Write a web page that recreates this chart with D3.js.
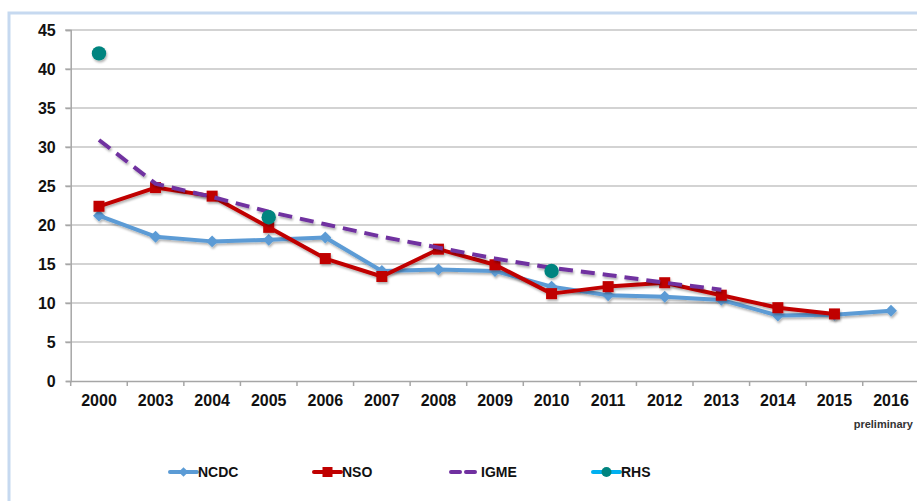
<!DOCTYPE html>
<html>
<head>
<meta charset="utf-8">
<script src="https://cdn.jsdelivr.net/npm/d3@7"></script>
<style>
  body { margin: 0; background: #fff; }
  svg { display: block; font-family: Arial, "Liberation Sans", sans-serif; }
  .grid line { stroke: #c4c4c4; stroke-width: 1.5; }
  .tick-label { font-size: 16px; font-weight: bold; fill: #111; }
  .legend-label { font-family: "Liberation Sans Narrow", "Arial Narrow", Arial, sans-serif; font-size: 14px; font-weight: bold; fill: #111; }
</style>
</head>
<body>
<script>
const years = ['2000', '2003', '2004', '2005', '2006', '2007', '2008', '2009', '2010', '2011', '2012', '2013', '2014', '2015', '2016'];
const yTicks = [0, 5, 10, 15, 20, 25, 30, 35, 40, 45];

const ncdc = [21.2, 18.5, 17.9, 18.1, 18.4, 14.1, 14.3, 14.1, 12.1, 11.0, 10.8, 10.4, 8.4, 8.5, 9.0];
const nso = [22.4, 24.8, 23.7, 19.7, 15.7, 13.4, 16.9, 14.9, 11.2, 12.1, 12.6, 11.0, 9.4, 8.6, null];
const igme = [30.9, 25.3, 23.6, 21.7, 20.1, 18.5, 17.1, 15.7, 14.5, 13.6, 12.6, 11.7, null, null, null];
const rhs = [42.0, null, null, 21.0, null, null, null, null, 14.1, null, null, null, null, null, null];

const width = 917, height = 501;
const plotLeft = 70.7, plotRight = 919.3, plotTop = 30, plotBottom = 381;

const svg = d3.select('body').append('svg')
  .attr('width', width)
  .attr('height', height);

// soft drop shadow like the original office chart
const defs = svg.append('defs');
const shadow = defs.append('filter').attr('id', 'shadow')
  .attr('x', '-10%').attr('y', '-10%').attr('width', '120%').attr('height', '130%');
shadow.append('feDropShadow')
  .attr('dx', 1).attr('dy', 2).attr('stdDeviation', 1.2)
  .attr('flood-color', '#000').attr('flood-opacity', 0.3);

// outer frame
svg.append('rect')
  .attr('x', 9).attr('y', 13)
  .attr('width', 940).attr('height', 520)
  .attr('fill', 'none')
  .attr('stroke', '#c6d9f0')
  .attr('stroke-width', 3);

const x = d3.scaleBand().domain(years).range([plotLeft, plotRight]);
const y = d3.scaleLinear().domain([0, 45]).range([plotBottom, plotTop]);
const cx = d => x(d) + x.bandwidth() / 2;

// gridlines
svg.append('g').attr('class', 'grid')
  .selectAll('line')
  .data(yTicks.filter(d => d > 0))
  .join('line')
  .attr('x1', 65).attr('x2', width)
  .attr('y1', d => y(d)).attr('y2', d => y(d));

// y axis
const yAxis = svg.append('g')
  .attr('transform', `translate(${plotLeft},0)`)
  .call(d3.axisLeft(y).tickValues(yTicks).tickSize(5).tickPadding(10));
yAxis.select('.domain').attr('stroke', '#a6a6a6').attr('stroke-width', 1.5);
yAxis.selectAll('.tick line').attr('stroke', '#a6a6a6').attr('stroke-width', 1.5);
yAxis.selectAll('.tick text').attr('class', 'tick-label').attr('dy', '0.35em');

// x axis
const xAxis = svg.append('g')
  .attr('transform', `translate(0,${plotBottom})`)
  .call(d3.axisBottom(x).tickSize(0).tickPadding(14));
xAxis.select('.domain').attr('stroke', '#a6a6a6').attr('stroke-width', 1.5);
xAxis.selectAll('.tick text').attr('class', 'tick-label');

// category boundary tick marks
svg.append('g')
  .selectAll('line')
  .data(years)
  .join('line')
  .attr('x1', d => x(d)).attr('x2', d => x(d))
  .attr('y1', plotBottom).attr('y2', plotBottom + 5)
  .attr('stroke', '#a6a6a6').attr('stroke-width', 1.5);

svg.append('text')
  .attr('x', 913).attr('y', 428)
  .attr('text-anchor', 'end')
  .attr('font-size', 11).attr('font-weight', 'bold')
  .attr('fill', '#333')
  .text('preliminary');

const line = d3.line()
  .defined(d => d.v != null)
  .x(d => cx(d.year))
  .y(d => y(d.v));

const pts = arr => years.map((year, i) => ({ year, v: arr[i] }));

const blue = '#5b9bd5', red = '#c00000', purple = '#7030a0', teal = '#00847f', cyan = '#00b0f0';

// NCDC
const gNcdc = svg.append('g').attr('filter', 'url(#shadow)');
gNcdc.append('path')
  .datum(pts(ncdc))
  .attr('d', line)
  .attr('fill', 'none').attr('stroke', blue).attr('stroke-width', 4)
  .attr('stroke-linejoin', 'round');
gNcdc.selectAll('path.m')
  .data(pts(ncdc).filter(d => d.v != null))
  .join('path')
  .attr('class', 'm')
  .attr('d', d3.symbol(d3.symbolDiamond2, 90))
  .attr('transform', d => `translate(${cx(d.year)},${y(d.v)})`)
  .attr('fill', blue);

// NSO
const gNso = svg.append('g').attr('filter', 'url(#shadow)');
gNso.append('path')
  .datum(pts(nso))
  .attr('d', line)
  .attr('fill', 'none').attr('stroke', red).attr('stroke-width', 4)
  .attr('stroke-linejoin', 'round');
gNso.selectAll('rect')
  .data(pts(nso).filter(d => d.v != null))
  .join('rect')
  .attr('x', d => cx(d.year) - 5.5).attr('y', d => y(d.v) - 5.5)
  .attr('width', 11).attr('height', 11)
  .attr('fill', red);

// IGME
svg.append('path')
  .datum(pts(igme))
  .attr('d', line)
  .attr('filter', 'url(#shadow)')
  .attr('fill', 'none').attr('stroke', purple).attr('stroke-width', 4)
  .attr('stroke-dasharray', '14 8');

// RHS
svg.append('g').attr('filter', 'url(#shadow)')
  .selectAll('circle')
  .data(pts(rhs).filter(d => d.v != null))
  .join('circle')
  .attr('cx', d => cx(d.year)).attr('cy', d => y(d.v))
  .attr('r', 7.2)
  .attr('fill', teal);

// legend
const legendItems = [
  { name: 'NCDC', x: 170, color: blue, marker: 'diamond' },
  { name: 'NSO', x: 314, color: red, marker: 'square' },
  { name: 'IGME', x: 451, color: purple, marker: 'dash' },
  { name: 'RHS', x: 593, color: cyan, marker: 'circle' }
];
const legendY = 472;
const lg = svg.append('g');
legendItems.forEach(item => {
  const g = lg.append('g').attr('transform', `translate(${item.x},${legendY})`);
  if (item.marker === 'dash') {
    g.append('line').attr('x1', 0).attr('x2', 26)
      .attr('stroke', item.color).attr('stroke-width', 4)
      .attr('stroke-linecap', 'round')
      .attr('stroke-dasharray', '9 6');
  } else {
    g.append('line').attr('x1', 0).attr('x2', 27)
      .attr('stroke', item.color).attr('stroke-width', 4)
      .attr('stroke-linecap', 'round');
  }
  if (item.marker === 'diamond') {
    g.append('path').attr('d', d3.symbol(d3.symbolDiamond2, 60))
      .attr('transform', 'translate(13.5,0)').attr('fill', item.color);
  } else if (item.marker === 'square') {
    g.append('rect').attr('x', 8.5).attr('y', -5).attr('width', 10).attr('height', 10)
      .attr('fill', item.color);
  } else if (item.marker === 'circle') {
    g.append('circle').attr('cx', 13.5).attr('r', 5).attr('fill', teal);
  }
  g.append('text')
    .attr('class', 'legend-label')
    .attr('x', item.marker === 'dash' ? 30 : 28)
    .attr('y', 5)
    .text(item.name);
});
</script>
</body>
</html>
